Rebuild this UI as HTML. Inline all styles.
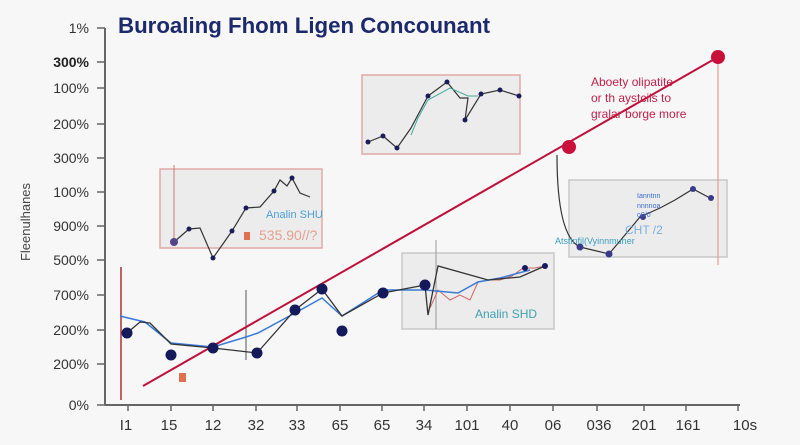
<!DOCTYPE html>
<html><head><meta charset="utf-8"><style>
html,body{margin:0;padding:0;background:#f7f7f8;}
svg{display:block;font-family:"Liberation Sans",sans-serif;}
</style></head><body>
<svg width="800" height="445" viewBox="0 0 800 445">
<rect width="800" height="445" fill="#f7f7f8"/>
<text x="118" y="33" font-size="22" font-weight="bold" fill="#1c2a6b" textLength="372" lengthAdjust="spacingAndGlyphs">Buroaling Fhom Ligen Concounant</text>
<!-- axes -->
<line x1="105" y1="28" x2="105" y2="405" stroke="#666" stroke-width="2"/>
<line x1="105" y1="405" x2="740" y2="405" stroke="#666" stroke-width="2"/>
<g font-size="14" fill="#333" text-anchor="end">
<text x="89" y="33">1%</text>
<text x="89" y="67" font-weight="bold" fill="#222">300%</text>
<text x="89" y="93">100%</text>
<text x="89" y="129">200%</text>
<text x="89" y="163">300%</text>
<text x="89" y="197">100%</text>
<text x="89" y="231">900%</text>
<text x="89" y="265">500%</text>
<text x="89" y="300">700%</text>
<text x="89" y="335">200%</text>
<text x="89" y="369">200%</text>
<text x="89" y="410">0%</text>
</g>
<g stroke="#666" stroke-width="1.5">
<line x1="97" y1="28" x2="105" y2="28"/><line x1="97" y1="62" x2="105" y2="62"/><line x1="97" y1="88" x2="105" y2="88"/><line x1="97" y1="124" x2="105" y2="124"/><line x1="97" y1="158" x2="105" y2="158"/><line x1="97" y1="192" x2="105" y2="192"/><line x1="97" y1="226" x2="105" y2="226"/><line x1="97" y1="260" x2="105" y2="260"/><line x1="97" y1="295" x2="105" y2="295"/><line x1="97" y1="330" x2="105" y2="330"/><line x1="97" y1="364" x2="105" y2="364"/><line x1="97" y1="405" x2="105" y2="405"/>
<line x1="128" y1="405" x2="128" y2="411"/><line x1="171" y1="405" x2="171" y2="411"/><line x1="213" y1="405" x2="213" y2="411"/><line x1="256" y1="405" x2="256" y2="411"/><line x1="297" y1="405" x2="297" y2="411"/><line x1="340" y1="405" x2="340" y2="411"/><line x1="382" y1="405" x2="382" y2="411"/><line x1="424" y1="405" x2="424" y2="411"/><line x1="467" y1="405" x2="467" y2="411"/><line x1="510" y1="405" x2="510" y2="411"/><line x1="553" y1="405" x2="553" y2="411"/><line x1="597" y1="405" x2="597" y2="411"/><line x1="644" y1="405" x2="644" y2="411"/><line x1="686" y1="405" x2="686" y2="411"/><line x1="738" y1="405" x2="738" y2="411"/>
</g>
<g font-size="15" fill="#333" text-anchor="middle">
<text x="126" y="430">I1</text><text x="169" y="430">15</text><text x="213" y="430">12</text><text x="256" y="430">32</text><text x="297" y="430">33</text><text x="340" y="430">65</text><text x="382" y="430">65</text><text x="424" y="430">34</text><text x="467" y="430">101</text><text x="510" y="430">40</text><text x="553" y="430">06</text><text x="599" y="430">036</text><text x="644" y="430">201</text><text x="688" y="430">161</text><text x="745" y="430">10s</text>
</g>
<text transform="translate(30,222) rotate(-90)" font-size="13" fill="#444" text-anchor="middle">Fleenulhanes</text>
<!-- boxes -->
<rect x="160" y="169" width="162" height="79" fill="#ececec" stroke="#e0aaa5" stroke-width="1.5"/>
<rect x="362" y="75" width="158" height="79" fill="#ececec" stroke="#e0aaa5" stroke-width="1.5"/>
<rect x="402" y="253" width="152" height="76" fill="#ececec" stroke="#c8c8c8" stroke-width="1.5"/>
<rect x="569" y="180" width="158" height="77" fill="#ececec" stroke="#c8c8c8" stroke-width="1.5"/>
<!-- verticals -->
<line x1="121" y1="267" x2="121" y2="400" stroke="#a33" stroke-width="1.5"/>
<line x1="246" y1="290" x2="246" y2="360" stroke="#555" stroke-width="1"/>
<line x1="174" y1="165" x2="174" y2="245" stroke="#c77" stroke-width="1"/>
<line x1="436" y1="240" x2="436" y2="329" stroke="#999" stroke-width="1"/>
<line x1="718" y1="57" x2="718" y2="265" stroke="#e0a090" stroke-width="1.2"/>
<!-- box1 -->
<polyline points="174,242 189,229 200,228 213,258 232,231 246,208 260,207 274,191 280,180 287,186 292,178 300,193 310,197" fill="none" stroke="#333" stroke-width="1.2"/>
<g fill="#1c1c5a"><circle cx="174" cy="242" r="4" fill="#554488"/><circle cx="189" cy="229" r="2.5"/><circle cx="213" cy="258" r="2.5"/><circle cx="232" cy="231" r="2.5"/><circle cx="246" cy="208" r="2.5"/><circle cx="274" cy="191" r="2.5"/><circle cx="292" cy="178" r="2.5"/></g>
<text x="266" y="218" font-size="11" fill="#4aa0d8">Analin SHU</text>
<text x="259" y="240" font-size="14" fill="#e6a090">535.90//?</text>
<rect x="244" y="232" width="6" height="8" fill="#e07050"/>
<!-- box2 -->
<polyline points="368,142 383,136 397,148 411,128 428,96 447,82 460,98 468,98 465,120 481,94 500,90 519,96" fill="none" stroke="#333" stroke-width="1.2"/>
<polyline points="411,135 418,118 428,100 450,88 468,96 478,96" fill="none" stroke="#4a9" stroke-width="1"/>
<g fill="#1c1c5a"><circle cx="368" cy="142" r="2.5"/><circle cx="383" cy="136" r="2.5"/><circle cx="397" cy="148" r="2.5"/><circle cx="428" cy="96" r="2.5"/><circle cx="447" cy="82" r="2.5"/><circle cx="465" cy="120" r="2.5"/><circle cx="481" cy="94" r="2.5"/><circle cx="500" cy="90" r="2.5"/><circle cx="519" cy="96" r="2.5"/></g>
<!-- box4 -->
<path d="M557,155 C557,210 565,240 580,247 L609,254 L640,217 L660,208 L675,200 L693,189 L710,198" fill="none" stroke="#333" stroke-width="1.2"/>
<g fill="#3a3a8a"><circle cx="580" cy="247" r="3.5"/><circle cx="609" cy="254" r="3.5"/><circle cx="643" cy="217" r="3"/><circle cx="693" cy="189" r="3"/><circle cx="711" cy="198" r="3"/></g>
<g font-size="7" fill="#3a6ac8"><text x="637" y="198">Ianntnn</text><text x="637" y="208">nnnnoa</text><text x="637" y="217">o0/0</text></g>
<text x="625" y="234" font-size="12" fill="#7ab0e0">CHT  /2</text>
<text x="555" y="244" font-size="9" fill="#3aa0c0">Atstinfil(Vyinnmuner</text>
<!-- box3 text -->
<text x="475" y="318" font-size="12" fill="#40a0b0">Analin SHD</text>
<polyline points="430,308 438,290 450,300 460,295 470,300 478,282 488,280 500,280 512,276 523,268 535,268 545,266" fill="none" stroke="#c66" stroke-width="1"/>
<!-- main series -->
<polyline points="120,316 145,322 171,343 213,347 246,337 258,333 295,313 322,298 342,316 383,290 425,290 458,293 478,282 500,278 530,270" fill="none" stroke="#3a7ad8" stroke-width="1.5"/>
<polyline points="127,333 140,322 150,323 171,344 213,348 257,353 295,310 322,289 342,316 383,293 425,285 428,315 438,266 488,280 520,277 545,266" fill="none" stroke="#333" stroke-width="1.3"/>
<!-- red trend -->
<line x1="143" y1="386" x2="718" y2="57" stroke="#c0103a" stroke-width="2"/>
<circle cx="569" cy="147" r="7" fill="#c8103a"/>
<circle cx="718" cy="57" r="7" fill="#c8103a"/>
<g fill="#141a5a"><circle cx="127" cy="333" r="5.5"/><circle cx="171" cy="355" r="5.5"/><circle cx="213" cy="348" r="5.5"/><circle cx="257" cy="353" r="5.5"/><circle cx="295" cy="310" r="5.5"/><circle cx="322" cy="289" r="5.5"/><circle cx="342" cy="331" r="5.5"/><circle cx="383" cy="293" r="5.5"/><circle cx="425" cy="285" r="5.5"/><circle cx="545" cy="266" r="3"/><circle cx="525" cy="268" r="3"/></g>
<rect x="179" y="373" width="7" height="9" fill="#e07050"/>
<g font-size="12" fill="#c0204a"><text x="591" y="86">Aboety olipatite</text><text x="591" y="102">or th aystcils to</text><text x="591" y="118">gralar borge more</text></g>
</svg>
</body></html>
